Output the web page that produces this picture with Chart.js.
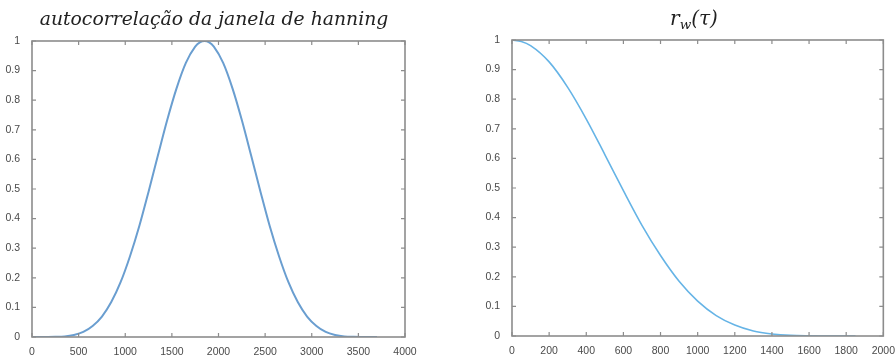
<!DOCTYPE html>
<html>
<head>
<meta charset="utf-8">
<script src="https://cdn.jsdelivr.net/npm/chart.js@4"></script>
<style>
  html, body { margin: 0; padding: 0; background: #fff; }
  #wrap { position: relative; width: 896px; height: 361px; }
  .box { position: absolute; top: 0; width: 448px; height: 361px; }
</style>
</head>
<body>
<div id="wrap">
  <div class="box" style="left:0"><canvas id="left"></canvas></div>
  <div class="box" style="left:448px"><canvas id="right"></canvas></div>
</div>
<script>
// left: autocorrelação da janela de hanning
const leftLags = [0, 50, 150, 250, 350, 450, 550, 650, 750, 850, 950, 1050, 1150, 1250, 1350, 1450, 1550, 1650, 1750, 1800,
  1850, 1900, 1950, 2050, 2150, 2250, 2350, 2450, 2550, 2650, 2750, 2850, 2950, 3050, 3150, 3250, 3350, 3450, 3550, 3650, 3700];
const leftValues = [0, 0, 0.0001, 0.0005, 0.002, 0.007, 0.017, 0.037, 0.069, 0.118, 0.185, 0.272, 0.374, 0.491, 0.613, 0.733, 0.840, 0.926, 0.981, 0.995,
  1, 0.995, 0.981, 0.926, 0.840, 0.733, 0.613, 0.491, 0.374, 0.272, 0.185, 0.118, 0.069, 0.037, 0.017, 0.007, 0.002, 0.0005, 0.0001, 0, 0];

// right: r_w(tau)
const rightLags = [0, 50, 100, 200, 300, 400, 500, 600, 700, 800, 900, 1000, 1100, 1200, 1300, 1400, 1500, 1600, 1700, 1800, 1850];
const rightValues = [1, 0.995, 0.981, 0.926, 0.840, 0.733, 0.613, 0.491, 0.374, 0.272, 0.185, 0.118, 0.069, 0.037, 0.017, 0.007, 0.002, 0.0005, 0.0001, 0, 0];

// ticks
const leftXTicks = [0, 500, 1000, 1500, 2000, 2500, 3000, 3500, 4000];
const rightXTicks = [0, 200, 400, 600, 800, 1000, 1200, 1400, 1600, 1800, 2000];
const yTicks = [0, 0.1, 0.2, 0.3, 0.4, 0.5, 0.6, 0.7, 0.8, 0.9, 1];
const yTickLabels = ['0', '0.1', '0.2', '0.3', '0.4', '0.5', '0.6', '0.7', '0.8', '0.9', '1'];

// titles (pedaços: texto, tamanho, deslocamento vertical)
const leftTitle = [['autocorrelação da janela de hanning', 18.8, 0]];
const rightTitle = [['r', 20, 0], ['w', 13.5, 4], ['(τ)', 20, 0]];

const axisColor = '#8c8c8c';
const labelColor = '#4a4a4a';

// caixa estilo MATLAB: borda completa e ticks para dentro
const boxPlugin = {
  id: 'matlabBox',
  afterDraw(chart) {
    const ctx = chart.ctx, a = chart.chartArea;
    ctx.save();
    ctx.strokeStyle = axisColor;
    ctx.lineWidth = 1.6;
    ctx.strokeRect(a.left, a.top, a.right - a.left, a.bottom - a.top);
    ctx.lineWidth = 1.2;
    const len = 4;
    chart.scales.x.ticks.forEach(t => {
      const px = chart.scales.x.getPixelForValue(t.value);
      ctx.beginPath();
      ctx.moveTo(px, a.bottom); ctx.lineTo(px, a.bottom - len);
      ctx.moveTo(px, a.top); ctx.lineTo(px, a.top + len);
      ctx.stroke();
    });
    chart.scales.y.ticks.forEach(t => {
      const py = chart.scales.y.getPixelForValue(t.value);
      ctx.beginPath();
      ctx.moveTo(a.left, py); ctx.lineTo(a.left + len, py);
      ctx.moveTo(a.right, py); ctx.lineTo(a.right - len, py);
      ctx.stroke();
    });
    // título
    const opts = chart.options.plugins.matlabBox;
    ctx.fillStyle = '#222';
    ctx.textBaseline = 'alphabetic';
    let total = 0;
    const widths = opts.parts.map(p => {
      ctx.font = 'italic ' + p[1] + 'px "DejaVu Serif"';
      const w = ctx.measureText(p[0]).width;
      total += w;
      return w;
    });
    let x = opts.cx - total / 2;
    opts.parts.forEach((p, i) => {
      ctx.font = 'italic ' + p[1] + 'px "DejaVu Serif"';
      ctx.fillText(p[0], x, opts.baseline + p[2]);
      x += widths[i];
    });
    ctx.restore();
  }
};

function makeChart(id, lags, values, xTicks, color, lineWidth, pad, yWidth, xHeight, title, cx) {
  return new Chart(document.getElementById(id), {
    type: 'line',
    data: {
      datasets: [{
        data: lags.map((x, i) => ({ x: x, y: values[i] })),
        borderColor: color,
        borderWidth: lineWidth,
        pointRadius: 0,
        fill: false,
        cubicInterpolationMode: 'monotone'
      }]
    },
    options: {
      responsive: false,
      animation: false,
      devicePixelRatio: 1,
      layout: { padding: pad },
      plugins: {
        legend: { display: false },
        tooltip: { enabled: false },
        matlabBox: { parts: title, baseline: 25, cx: cx }
      },
      scales: {
        x: {
          type: 'linear',
          min: xTicks[0],
          max: xTicks[xTicks.length - 1],
          afterBuildTicks: s => { s.ticks = xTicks.map(v => ({ value: v })); },
          afterFit: s => { s.height = xHeight; },
          grid: { display: false },
          border: { display: false },
          ticks: {
            color: labelColor,
            font: { family: '"Liberation Sans"', size: 10.5 },
            padding: 1,
            maxRotation: 0,
            autoSkip: false,
            callback: v => String(v)
          }
        },
        y: {
          min: 0,
          max: 1,
          afterBuildTicks: s => { s.ticks = yTicks.map(v => ({ value: v })); },
          afterFit: s => { s.width = yWidth; },
          grid: { display: false },
          border: { display: false },
          ticks: {
            color: labelColor,
            font: { family: '"Liberation Sans"', size: 10.5 },
            padding: 4,
            autoSkip: false,
            callback: (v, i) => yTickLabels[i]
          }
        }
      }
    },
    plugins: [boxPlugin]
  });
}

// tamanho fixo do canvas
['left', 'right'].forEach(id => {
  const c = document.getElementById(id);
  c.width = 448; c.height = 361;
  c.style.width = '448px'; c.style.height = '361px';
});

makeChart('left', leftLags, leftValues, leftXTicks, '#6a9ed0', 2, { left: 0, right: 43, top: 41, bottom: 0 }, 32, 24, leftTitle, 214);
makeChart('right', rightLags, rightValues, rightXTicks, '#66b4e6', 1.6, { left: 0, right: 10, top: 40, bottom: 0 }, 64, 25, rightTitle, 246);
</script>
</body>
</html>
